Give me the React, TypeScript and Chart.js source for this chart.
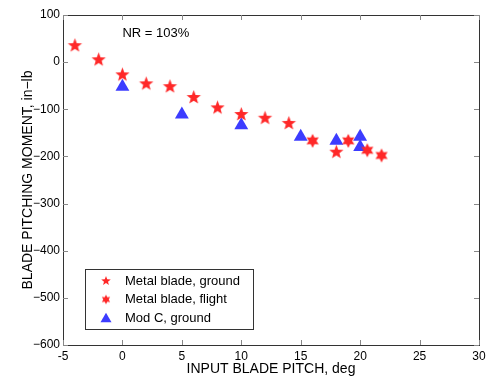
import { useEffect, useRef } from 'react';
import { Chart, registerables } from 'chart.js';
Chart.register(...registerables);

const groundX = [-4, -2, 0, 2, 4, 6, 8, 10, 12, 14, 18];
const groundY = [35, 5, -27, -46, -52, -75, -97, -111, -119, -130, -191];
const flightX = [16, 19, 20.6, 21.8];
const flightY = [-167, -167, -187, -198];
const modCX = [0, 5, 10, 15, 18, 20, 20];
const modCY = [-52, -111, -134, -158, -167, -158, -180];
const xTicks = [-5, 0, 5, 10, 15, 20, 25, 30];
const yTicks = [-600, -500, -400, -300, -200, -100, 0, 100];
const seriesNames = ['Metal blade, ground', 'Metal blade, flight', 'Mod C, ground'];
const annotation = 'NR = 103%';

const RED = 'rgb(255,40,40)';
const BLUE = 'rgb(60,60,255)';
const FONT = '"Liberation Sans", Arial, Helvetica, sans-serif';

function makeStar(n: number, R: number, ratio: number, color: string) {
  const size = Math.ceil(2 * R + 2);
  const c = document.createElement('canvas');
  c.width = size;
  c.height = size;
  const ctx = c.getContext('2d')!;
  const cx = size / 2;
  const cy = size / 2;
  ctx.beginPath();
  for (let i = 0; i < 2 * n; i++) {
    const r = i % 2 === 0 ? R : R * ratio;
    const a = -Math.PI / 2 + (i * Math.PI) / n;
    const x = cx + r * Math.cos(a);
    const y = cy + r * Math.sin(a);
    if (i === 0) ctx.moveTo(x, y);
    else ctx.lineTo(x, y);
  }
  ctx.closePath();
  ctx.fillStyle = color;
  ctx.fill();
  return c;
}

function drawTri(ctx: CanvasRenderingContext2D, x: number, y: number, s: number, color: string) {
  const h = s * 0.866;
  ctx.beginPath();
  ctx.moveTo(x, y - (2 * h) / 3);
  ctx.lineTo(x + s / 2, y + h / 3);
  ctx.lineTo(x - s / 2, y + h / 3);
  ctx.closePath();
  ctx.fillStyle = color;
  ctx.fill();
}

export default function App() {
  const ref = useRef<HTMLCanvasElement>(null);
  useEffect(() => {
    if (!ref.current) return;
    const pent = makeStar(5, 7.5, 0.42, RED);
    const hex = makeStar(6, 7, 0.55, RED);
    const pentS = makeStar(5, 5, 0.42, RED);
    const hexS = makeStar(6, 4.8, 0.55, RED);

    const framePlugin = {
      id: 'frame',
      afterDraw(chart: any) {
        const { ctx, chartArea: a, scales } = chart;
        const xs = scales.x;
        const ys = scales.y;
        ctx.save();
        ctx.strokeStyle = '#333';
        ctx.lineWidth = 1;
        ctx.strokeRect(Math.round(a.left) + 0.5, Math.round(a.top) + 0.5, Math.round(a.right - a.left), Math.round(a.bottom - a.top));
        ctx.strokeStyle = '#888';
        const tl = 5;
        ctx.beginPath();
        for (const v of xTicks) {
          const px = Math.round(xs.getPixelForValue(v)) + 0.5;
          ctx.moveTo(px, a.bottom);
          ctx.lineTo(px, a.bottom - tl);
          ctx.moveTo(px, a.top);
          ctx.lineTo(px, a.top + tl);
        }
        for (const v of yTicks) {
          const py = Math.round(ys.getPixelForValue(v)) + 0.5;
          ctx.moveTo(a.left, py);
          ctx.lineTo(a.left + tl, py);
          ctx.moveTo(a.right, py);
          ctx.lineTo(a.right - tl, py);
        }
        ctx.stroke();

        // annotation
        ctx.fillStyle = '#000';
        ctx.font = `13px ${FONT}`;
        ctx.textAlign = 'left';
        ctx.textBaseline = 'middle';
        ctx.fillText(annotation, xs.getPixelForValue(0), ys.getPixelForValue(60));

        // legend
        const lx = 85, ly = 269, lw = 168, lh = 60;
        ctx.fillStyle = '#fff';
        ctx.fillRect(lx, ly, lw, lh);
        ctx.strokeStyle = '#333';
        ctx.strokeRect(lx + 0.5, ly + 0.5, lw, lh);
        const rows = [281, 299.5, 318];
        const mx = 106;
        ctx.drawImage(pentS, mx - pentS.width / 2, rows[0] - pentS.height / 2);
        ctx.drawImage(hexS, mx - hexS.width / 2, rows[1] - hexS.height / 2);
        drawTri(ctx, mx, rows[2] + 1, 11, BLUE);
        ctx.fillStyle = '#000';
        ctx.font = `13px ${FONT}`;
        seriesNames.forEach((n, i) => ctx.fillText(n, 125, rows[i]));
        ctx.restore();
      },
    };

    const chart = new Chart(ref.current, {
      type: 'scatter',
      data: {
        datasets: [
          {
            label: seriesNames[0],
            data: groundX.map((x, i) => ({ x, y: groundY[i] })),
            pointStyle: pent as any,
            backgroundColor: RED,
            borderColor: RED,
          },
          {
            label: seriesNames[1],
            data: flightX.map((x, i) => ({ x, y: flightY[i] })),
            pointStyle: hex as any,
            backgroundColor: RED,
            borderColor: RED,
          },
          {
            label: seriesNames[2],
            data: modCX.map((x, i) => ({ x, y: modCY[i] })),
            pointStyle: 'triangle',
            pointRadius: 8,
            borderWidth: 0,
            backgroundColor: BLUE,
            borderColor: BLUE,
          },
        ],
      },
      options: {
        responsive: false,
        animation: false,
        layout: { padding: { top: 15, right: 8, left: 0, bottom: 0 } },
        plugins: { legend: { display: false }, tooltip: { enabled: false } },
        scales: {
          x: {
            type: 'linear',
            min: -5,
            max: 30,
            afterFit: (s: any) => { s.height = 36; s.paddingLeft = 0; s.paddingRight = 0; },
            afterBuildTicks: (s: any) => { s.ticks = xTicks.map((v) => ({ value: v })); },
            grid: { display: false, drawTicks: false, tickLength: 0 },
            border: { display: false },
            ticks: { color: '#000', font: { family: FONT, size: 12 }, padding: 4, maxRotation: 0 },
            title: {
              display: true,
              text: 'INPUT BLADE PITCH, deg',
              color: '#000',
              font: { family: FONT, size: 14 },
              padding: { top: 0, bottom: 3 },
            },
          },
          y: {
            type: 'linear',
            min: -600,
            max: 100,
            afterFit: (s: any) => { s.width = 63; s.paddingTop = 0; s.paddingBottom = 0; },
            afterBuildTicks: (s: any) => { s.ticks = yTicks.map((v) => ({ value: v })); },
            grid: { display: false, drawTicks: false, tickLength: 0 },
            border: { display: false },
            ticks: {
              color: '#000',
              font: { family: FONT, size: 12 },
              padding: 3,
              callback: (v: any) => String(v).replace('-', '\u2212'),
            },
            title: {
              display: true,
              text: 'BLADE PITCHING MOMENT, in\u2212lb',
              color: '#000',
              font: { family: FONT, size: 14 },
              padding: { top: 20, bottom: 0 },
            },
          },
        },
      },
      plugins: [framePlugin],
    });
    return () => chart.destroy();
  }, []);
  return (
    <div style={{ position: 'fixed', left: 0, top: 0, width: 487, height: 381, background: '#fff' }}>
      <canvas ref={ref} width={487} height={381} style={{ width: 487, height: 381, display: 'block' }} />
    </div>
  );
}
